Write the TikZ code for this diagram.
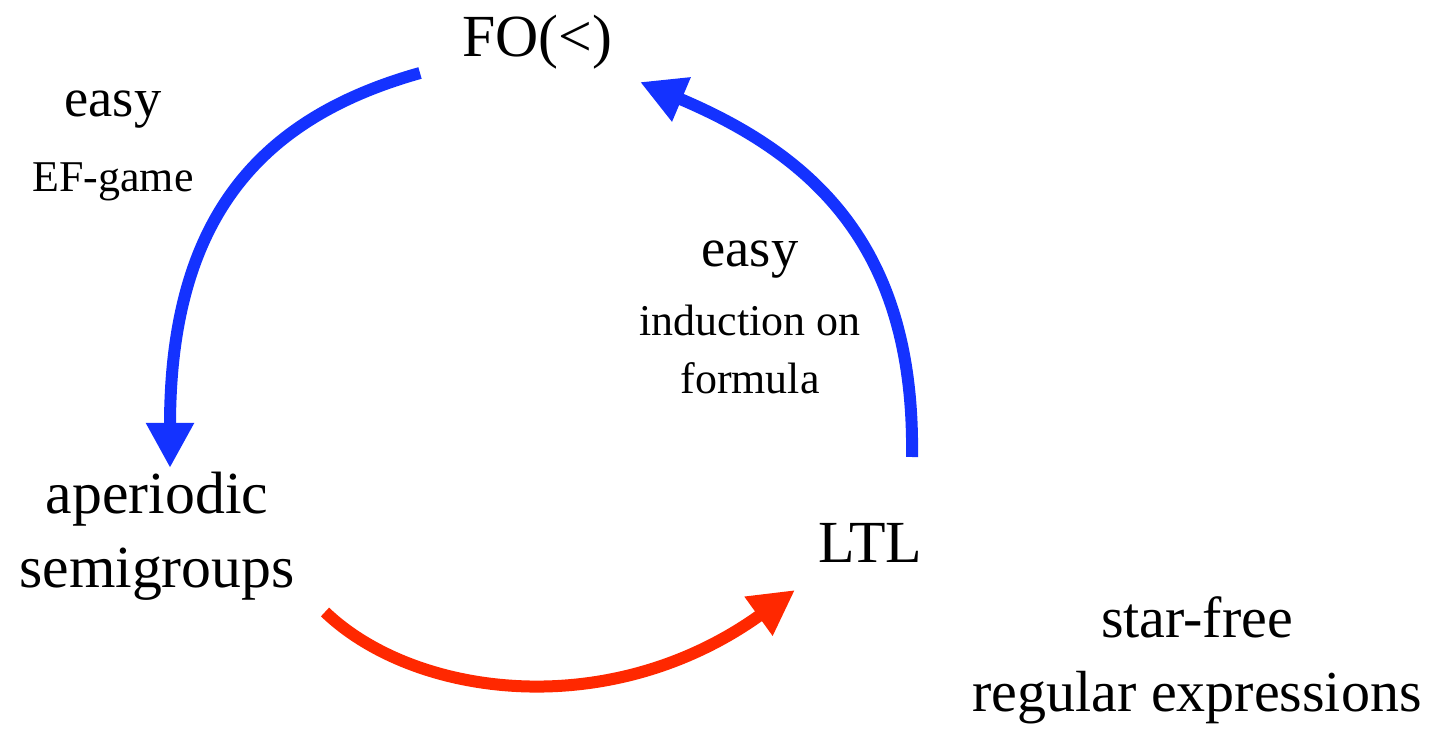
\documentclass[tikz,border=0pt]{standalone}
\usepackage{fontspec}
\setmainfont{Liberation Serif}
\usetikzlibrary{arrows.meta, positioning}

\definecolor{fblue}{RGB}{20,50,255}
\definecolor{fred}{RGB}{255,40,0}

\begin{document}
\begin{tikzpicture}[
    >={Triangle[length=9mm,width=9mm]},
    big/.style={font=\fontsize{34}{42}\selectfont, align=center, inner sep=2pt},
    easy/.style={font=\fontsize{31}{38}\selectfont, inner sep=2pt},
    note/.style={font=\fontsize{25}{33}\selectfont, align=center, inner sep=2pt},
    link/.style={->, line width=2.4mm}
  ]
  \useasboundingbox (0,0) rectangle (28.7,14.66);

  % Logics and classes
  \node[big] (fo) at (10.74,13.82) {FO(<)};
  \node[big] (aper) at (3.14,3.94) {aperiodic\\semigroups};
  \node[big] (ltl) at (17.4,3.8) {LTL};
  \node[big, font=\fontsize{33}{42}\selectfont] (sfre) at (23.94,1.46) {star-free\\regular expressions};

  % Labels
  \node[easy] (easyL) at (2.26,12.46) {easy};
  \node[note] (efgame) at (2.26,11.02) {EF-game};
  \node[easy] (easyR) at (15.0,9.46) {easy};
  \node[note] (induct) at (15.0,7.68) {induction on\\formula};

  % Arrows
  \draw[link, fblue] ([shift={(-2.34,-0.62)}]fo.center)
    .. controls (5.2,12.3) and (3.4,10.3) ..
    ([shift={(0.26,1.36)}]aper.center);

  \draw[link, fblue] ([shift={(0.84,1.72)}]ltl.center)
    .. controls (18.3,9.6) and (16.4,11.5) ..
    ([shift={(2.06,-0.8)}]fo.center);

  \draw[link, fred] ([shift={(3.36,-1.52)}]aper.center)
    .. controls (8.3,0.7) and (12.2,0.2) ..
    ([shift={(-1.5,-0.94)}]ltl.center);

\end{tikzpicture}
\end{document}
